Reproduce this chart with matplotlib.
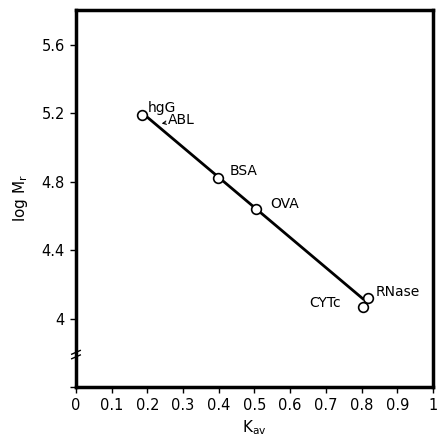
import matplotlib
matplotlib.use("Agg")
import matplotlib.pyplot as plt

# protein standards: partition coefficient Kav vs log Mr
proteins = ["hgG", "BSA", "OVA", "CYTc", "RNase"]
kav = [0.186, 0.397, 0.503, 0.803, 0.819]
log_mr = [5.19, 4.82, 4.64, 4.07, 4.12]

# label anchor points (Kav, log Mr) and alignment
label_kav = [0.200, 0.430, 0.545, 0.742, 0.839]
label_logmr = [5.230, 4.864, 4.670, 4.093, 4.158]
label_ha = ["left", "left", "left", "right", "left"]

# fitted calibration line
fit_kav = [0.200, 0.803]
fit_logmr = [5.177, 4.117]

# ABL marker (arrow tip and label)
abl_tip = (0.240, 5.140)
abl_text = (0.258, 5.163)

xticks = [0, 0.1, 0.2, 0.3, 0.4, 0.5, 0.6, 0.7, 0.8, 0.9, 1.0]
xticklabels = ["0", "0.1", "0.2", "0.3", "0.4", "0.5", "0.6", "0.7", "0.8", "0.9", "1"]
yticks = [3.6, 4.0, 4.4, 4.8, 5.2, 5.6]
yticklabels = ["", "4", "4.4", "4.8", "5.2", "5.6"]

plt.rcParams["font.family"] = ["DejaVu Sans"]

fig = plt.figure(figsize=(4.38, 4.37), dpi=100)
ax = fig.add_axes([0.1735, 0.1144, 0.815, 0.8627])

ax.plot(fit_kav, fit_logmr, color="black", lw=2.0, zorder=2)
ax.plot(kav, log_mr, "o", mfc="white", mec="black", ms=7, mew=1.2, zorder=3)

for name, x, y, ha in zip(proteins, label_kav, label_logmr, label_ha):
    ax.text(x, y, name, ha=ha, va="center", fontsize=10)

ax.annotate("ABL", xy=abl_tip, xytext=abl_text,
            ha="left", va="center", fontsize=10,
            arrowprops=dict(arrowstyle="->", lw=0.8, color="black",
                            shrinkA=0, shrinkB=0, mutation_scale=6))

ax.set_xlim(0, 1)
ax.set_ylim(3.603, 5.804)
ax.set_xticks(xticks)
ax.set_xticklabels(xticklabels, fontsize=10.5)
ax.set_yticks(yticks)
ax.set_yticklabels(yticklabels, fontsize=10.5)
ax.tick_params(direction="out", length=4, width=1, pad=4)

for s in ax.spines.values():
    s.set_linewidth(2.5)

# axis break mark on y axis
for dy in (0.0, 0.012):
    ax.plot([-0.012, 0.012], [0.075 + dy, 0.085 + dy], color="black", lw=1.0,
            transform=ax.transAxes, clip_on=False)

ax.set_xlabel("K$_{\\rm av}$", fontsize=11, labelpad=4)
ax.set_ylabel("log M$_{\\rm r}$", fontsize=11, labelpad=8)

fig.savefig("out.png", dpi=100)
